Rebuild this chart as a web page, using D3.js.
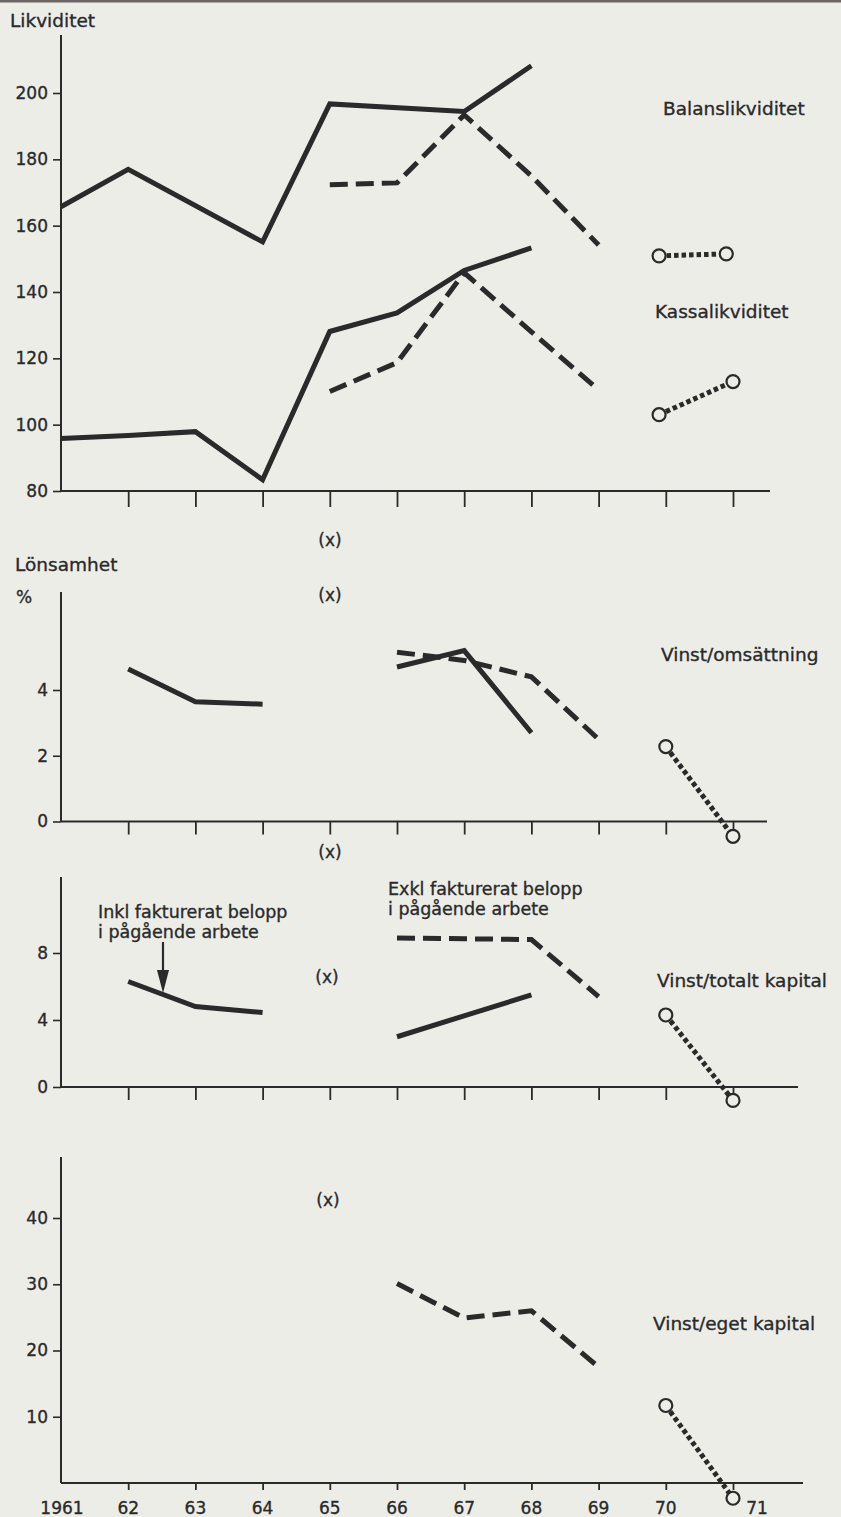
<!DOCTYPE html>
<html><head><meta charset="utf-8">
<script src="https://cdn.jsdelivr.net/npm/d3@7"></script>
<style>
html,body{margin:0;padding:0;background:#edede8;}
svg{display:block;}
text{font-family:"DejaVu Sans",sans-serif;fill:#2a2a2a;stroke:#2a2a2a;stroke-width:0.35px;}
</style></head>
<body>
<script>
// ---------- DATA ----------
const tickYears = [1962,1963,1964,1965,1966,1967,1968,1969,1970,1971];
const labelYears = [1961,1962,1963,1964,1965,1966,1967,1968,1969,1970,1971];
const yearLabels = ["1961","62","63","64","65","66","67","68","69","70","71"];

// Likviditet
const likvTicks = [80,100,120,140,160,180,200];
const balansSolid  = [[1961,165.7],[1962,177.0],[1964,155.1],[1965,196.7],[1967,194.4],[1968,208.2]];
const balansDashed = [[1965,172.3],[1966,172.9],[1967,193.4],[1968,175.0],[1969,154.2]];
const balansDotted = [[1969.9,150.9],[1970.9,151.5]];
const kassaSolid   = [[1961,95.8],[1962,96.7],[1963,97.9],[1964,83.4],[1965,128.1],[1966,133.7],[1967,146.5],[1968,153.3]];
const kassaDashed  = [[1965,110.0],[1966,118.7],[1967,145.8],[1968,128.0],[1969,110.5]];
const kassaDotted  = [[1969.9,103.0],[1971,113.0]];

// Vinst/omsättning (%)
const omsTicks = [0,2,4];
const omsSolidA  = [[1962,4.64],[1963,3.64],[1964,3.57]];
const omsSolidB  = [[1966,4.7],[1967,5.2],[1968,2.7]];
const omsDashed  = [[1966,5.15],[1967,4.9],[1968,4.4],[1969,2.5]];
const omsDotted  = [[1970,2.28],[1971,-0.45]];

// Vinst/totalt kapital (%)
const totTicks = [0,4,8];
const totSolidA  = [[1962,6.3],[1963,4.8],[1964,4.45]];
const totSolidB  = [[1966,3.0],[1968,5.5]];
const totDashed  = [[1966,8.9],[1967,8.85],[1968,8.8],[1969,5.4]];
const totDotted  = [[1970,4.3],[1971,-0.8]];

// Vinst/eget kapital (%)
const egetTicks = [10,20,30,40];
const egetDashed = [[1966,30.1],[1967,24.9],[1968,26.0],[1969,17.5]];
const egetDotted = [[1970,11.7],[1971,-2.3]];

// ---------- DRAWING ----------
const W = 841, H = 1517;
const BG = "#edede8", INK = "#2a2a2a";
const svg = d3.select("body").append("svg").attr("width", W).attr("height", H);
svg.append("rect").attr("width", W).attr("height", H).attr("fill", BG);
svg.append("rect").attr("width", W).attr("height", 2.5).attr("fill", "#6b6464");

const x = d3.scaleLinear().domain([1961,1971]).range([61,733]);

function panel(opt){
  const y = d3.scaleLinear().domain(opt.domain).range(opt.range);
  const g = svg.append("g");
  g.append("line").attr("x1",61).attr("x2",61).attr("y1",opt.top).attr("y2",opt.range[0])
    .attr("stroke",INK).attr("stroke-width",2);
  g.append("line").attr("x1",61).attr("x2",opt.xEnd).attr("y1",opt.range[0]).attr("y2",opt.range[0])
    .attr("stroke",INK).attr("stroke-width",2);
  const ya = d3.axisLeft(y).tickValues(opt.ticks).tickSize(8).tickPadding(5).tickFormat(d3.format("d"));
  const yg = g.append("g").attr("transform","translate(61,0)").call(ya);
  yg.select(".domain").remove();
  yg.selectAll(".tick line").attr("stroke",INK).attr("stroke-width",1.6);
  yg.selectAll(".tick text").attr("font-size",17).attr("font-family","DejaVu Sans").attr("fill",INK);
  const xa = d3.axisBottom(x).tickValues(tickYears).tickSize(opt.xTick).tickFormat("");
  const xg = g.append("g").attr("transform",`translate(0,${opt.range[0]})`).call(xa);
  xg.select(".domain").remove();
  xg.selectAll(".tick line").attr("stroke",INK).attr("stroke-width",1.8);

  const line = d3.line().x(d=>x(d[0])).y(d=>y(d[1])).curve(d3.curveLinear);
  (opt.solid||[]).forEach(s=>{
    g.append("path").datum(s).attr("d",line).attr("fill","none").attr("stroke",INK)
      .attr("stroke-width",5).attr("stroke-linejoin","miter");
  });
  (opt.dashed||[]).forEach(s=>{
    g.append("path").datum(s).attr("d",line).attr("fill","none").attr("stroke",INK)
      .attr("stroke-width",5).attr("stroke-dasharray","18,8").attr("stroke-linejoin","miter");
  });
  (opt.dotted||[]).forEach(s=>{
    g.append("path").datum(s).attr("d",line).attr("fill","none").attr("stroke",INK)
      .attr("stroke-width",5).attr("stroke-dasharray","4.5,3");
    g.selectAll(null).data(s).enter().append("circle")
      .attr("cx",d=>x(d[0])).attr("cy",d=>y(d[1])).attr("r",6.5)
      .attr("fill",BG).attr("stroke",INK).attr("stroke-width",2.2);
  });
  return {g,y};
}

function label(t, px, py, size){
  svg.append("text").attr("x",px).attr("y",py).attr("font-size",size||18).text(t);
}
function xmark(px, py){
  svg.append("text").attr("x",px).attr("y",py).attr("text-anchor","middle").attr("font-size",17).text("(x)");
}

// Panel 1
panel({domain:[80,200], range:[491,93], top:35, xEnd:770, xTick:16, ticks:likvTicks,
  solid:[balansSolid,kassaSolid], dashed:[balansDashed,kassaDashed], dotted:[balansDotted,kassaDotted]});
label("Likviditet", 10, 27, 18.5);
label("Balanslikviditet", 663, 115, 18.5);
label("Kassalikviditet", 655, 318, 18.5);
xmark(330, 546);

// Panel 2
panel({domain:[0,4], range:[821.5,690], top:592, xEnd:767, xTick:13, ticks:omsTicks,
  solid:[omsSolidA,omsSolidB], dashed:[omsDashed], dotted:[omsDotted]});
label("Lönsamhet", 15, 571, 18.5);
label("%", 16, 603, 17);
xmark(330, 601);
label("Vinst/omsättning", 661, 661, 18.5);
xmark(330, 858);

// Panel 3
panel({domain:[0,8], range:[1087,953], top:877, xEnd:798, xTick:13, ticks:totTicks,
  solid:[totSolidA,totSolidB], dashed:[totDashed], dotted:[totDotted]});
label("Inkl fakturerat belopp", 98, 918, 17.5);
label("i pågående arbete", 98, 938, 17.5);
label("Exkl fakturerat belopp", 388, 895, 17.5);
label("i pågående arbete", 388, 915, 17.5);
xmark(327, 983);
label("Vinst/totalt kapital", 657, 987, 18.5);
svg.append("line").attr("x1",163).attr("x2",163).attr("y1",942).attr("y2",975)
  .attr("stroke",INK).attr("stroke-width",2.2);
svg.append("path").attr("d","M157,970 L169,970 L163,993 Z").attr("fill",INK);

// Panel 4
panel({domain:[0,40], range:[1483,1218], top:1157, xEnd:803, xTick:7, ticks:egetTicks,
  dashed:[egetDashed], dotted:[egetDotted]});
xmark(328, 1206);
label("Vinst/eget kapital", 653, 1330, 18.5);
svg.append("g").selectAll("text").data(labelYears).enter().append("text")
  .attr("x",(d,i)=>x(d) + (d===1971 ? 24 : (d===1961 ? 1 : 0)))
  .attr("y",1514).attr("text-anchor","middle").attr("font-size",17)
  .text((d,i)=>yearLabels[i]);
</script>
</body></html>
